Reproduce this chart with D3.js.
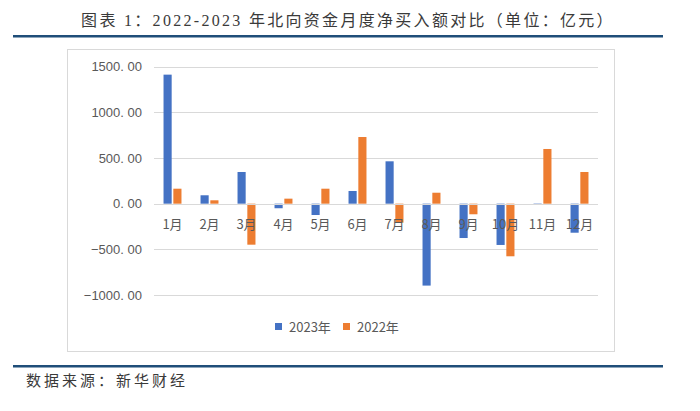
<!DOCTYPE html>
<html>
<head>
<meta charset="utf-8">
<script src="https://cdn.jsdelivr.net/npm/d3@7"></script>
<style>
  body { margin: 0; background: #fff; }
  svg { display: block; }
</style>
</head>
<body>
<div id="chart"></div>
<script>
// Monthly northbound net buying (亿元)
const months = ["1月", "2月", "3月", "4月", "5月", "6月", "7月", "8月", "9月", "10月", "11月", "12月"];
const values2023 = [1413, 92, 347, -50, -124, 139, 464, -897, -376, -452, -14, -318];
const values2022 = [164, 37, -449, 55, 164, 730, -208, 120, -116, -576, 599, 347];
const yTicks = [-1000, -500, 0, 500, 1000, 1500];
const seriesNames = ["2023年", "2022年"];
const colors = ["#4472C4", "#ED7D31"];

const width = 700, height = 411;
const svg = d3.select("#chart").append("svg")
    .attr("width", width)
    .attr("height", height);

const titleFont = "'Liberation Serif', 'Noto Sans CJK SC', serif";
const cjkFont = "'Noto Sans CJK SC', sans-serif";

// Title and rules
svg.append("text")
    .attr("x", 348).attr("y", 26)
    .attr("text-anchor", "middle")
    .style("font-family", titleFont)
    .style("font-size", "16px")
    .style("letter-spacing", "2.3px")
    .attr("fill", "#3a3a3a")
    .text("图表 1：2022-2023 年北向资金月度净买入额对比（单位：亿元）");

svg.append("rect").attr("x", 13).attr("y", 35).attr("width", 650).attr("height", 2.5).attr("fill", "#1F4E79");
svg.append("rect").attr("x", 13).attr("y", 365).attr("width", 650).attr("height", 2.5).attr("fill", "#1F4E79");

svg.append("text")
    .attr("x", 26).attr("y", 386)
    .style("font-family", cjkFont)
    .style("font-size", "15px")
    .style("letter-spacing", "3px")
    .attr("fill", "#3a3a3a")
    .text("数据来源：新华财经");

// Chart frame
svg.append("rect")
    .attr("x", 67.5).attr("y", 49.5)
    .attr("width", 547).attr("height", 302)
    .attr("fill", "#fff")
    .attr("stroke", "#D9D9D9");

const margin = { left: 154, right: 598 };
const x = d3.scaleBand().domain(months).range([margin.left, margin.right]).padding(0);
const y = d3.scaleLinear().domain([-1000, 1500]).range([295, 66.7]);

// Gridlines
svg.append("g")
    .selectAll("line")
    .data(yTicks)
    .join("line")
    .attr("x1", margin.left).attr("x2", margin.right)
    .attr("y1", d => Math.round(y(d)) + 0.5)
    .attr("y2", d => Math.round(y(d)) + 0.5)
    .attr("stroke", "#D9D9D9")
    .attr("stroke-width", 1);

// Y axis labels
svg.append("g")
    .selectAll("text")
    .data(yTicks)
    .join("text")
    .attr("x", 142)
    .attr("y", d => y(d))
    .attr("dy", "0.35em")
    .attr("text-anchor", "end")
    .style("font-family", "'Liberation Sans', Arial, sans-serif")
    .style("font-size", "13px")
    .attr("fill", "#595959")
    .text(d => d3.format(".2f")(d).replace(".", ". ").replace("-", "−"));

// Bars
const bw = x.bandwidth();
const barW = bw * 0.22;
const gap = bw * 0.045;
const series = [values2023, values2022];

series.forEach((vals, i) => {
    svg.append("g")
        .selectAll("rect")
        .data(vals.map((v, j) => ({ m: months[j], v })))
        .join("rect")
        .attr("x", d => x(d.m) + bw / 2 - barW - gap / 2 + i * (barW + gap))
        .attr("y", d => y(Math.max(0, d.v)))
        .attr("width", barW)
        .attr("height", d => Math.abs(y(d.v) - y(0)))
        .attr("fill", colors[i]);
});

// Zero line on top of bars
svg.append("line")
    .attr("x1", margin.left).attr("x2", margin.right)
    .attr("y1", Math.round(y(0)) + 0.5).attr("y2", Math.round(y(0)) + 0.5)
    .attr("stroke", "#D9D9D9");

// Category labels
svg.append("g")
    .selectAll("text")
    .data(months)
    .join("text")
    .attr("x", d => x(d) + bw / 2)
    .attr("y", 224)
    .attr("dy", "0.35em")
    .attr("text-anchor", "middle")
    .style("font-family", cjkFont)
    .style("font-size", "13px")
    .attr("fill", "#595959")
    .text(d => d);

// Legend
const legend = svg.append("g");
const legendX = [275, 343];
seriesNames.forEach((name, i) => {
    legend.append("rect")
        .attr("x", legendX[i]).attr("y", 323)
        .attr("width", 7).attr("height", 7)
        .attr("fill", colors[i]);
    legend.append("text")
        .attr("x", legendX[i] + 14).attr("y", 327)
        .attr("dy", "0.35em")
        .style("font-family", cjkFont)
        .style("font-size", "13px")
        .attr("fill", "#595959")
        .text(name);
});
</script>
</body>
</html>
